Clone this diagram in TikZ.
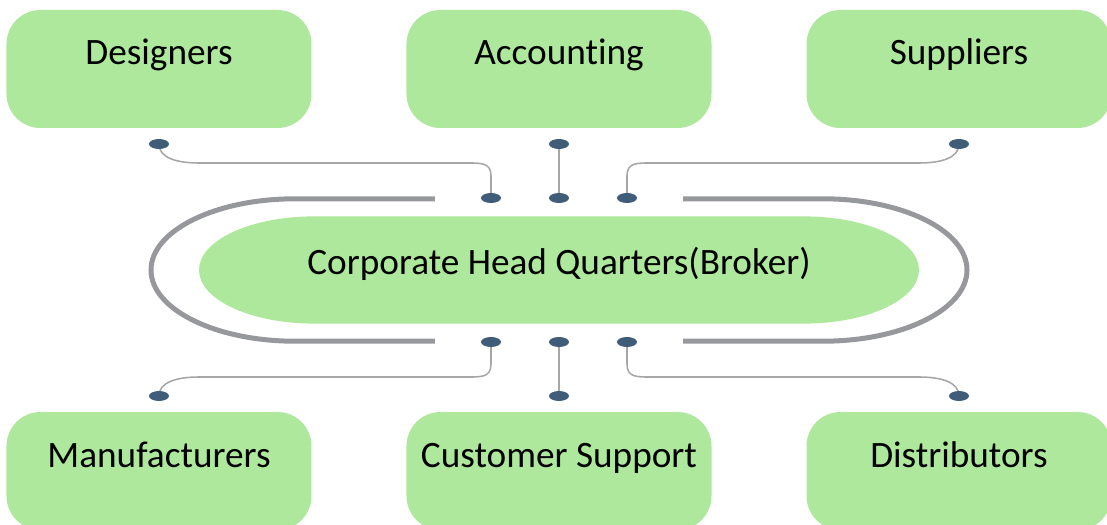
\documentclass[tikz,border=0pt]{standalone}
\usepackage{fontspec}
\setmainfont[Ligatures=NoCommon]{Carlito}
\usetikzlibrary{shapes.geometric,backgrounds,calc}
\definecolor{boxgreen}{HTML}{AEE89C}
\definecolor{dotblue}{HTML}{3F5C78}
\definecolor{ringgray}{HTML}{97989C}
\definecolor{linkgray}{HTML}{A6A6A6}
\tikzset{
    dept/.style={fill=boxgreen, rounded corners=0.85cm, minimum width=7.625cm, minimum height=2.95cm,
        text height=0.6cm, text depth=0.8cm, font=\fontsize{26.5}{30}\selectfont},
    plug/.style={ellipse, fill=dotblue, minimum width=0.5cm, minimum height=0.25cm, inner sep=0pt},
    wire/.style={linkgray, line width=1.1pt},
    trunk/.style={linkgray, line width=2pt},
    ring/.style={ringgray, line width=0.125cm},
}
\begin{document}
\begin{tikzpicture}
\useasboundingbox (-13.975,-6.35) rectangle (13.7,6.75);
\clip (-13.975,-6.35) rectangle (13.7,6.75);
\foreach \x/\y/\n/\t in {-10/5.025/des/Designers, 0/5.025/acc/Accounting, 10/5.025/sup/Suppliers,
    -10/-5.025/man/Manufacturers, 0/-5.025/cus/Customer Support, 10/-5.025/dis/Distributors}
{
    \node[dept] (\n) at (\x,\y) {\t};
}
% broker
\fill[boxgreen] (-6.125,1.34) -- (6.125,1.34) arc[start angle=90, end angle=-90, x radius=2.875, y radius=1.34]
    -- (-6.125,-1.34) arc[start angle=270, end angle=90, x radius=2.875, y radius=1.34] -- cycle;
\node[font=\fontsize{26.5}{30}\selectfont] (hq) at (0,0.15) {Corporate Head Quarters(Broker)};
\draw[ring] (-3.1,1.78) -- (-6.6,1.78) arc[start angle=90, end angle=270, x radius=3.6, y radius=1.78] -- (-3.1,-1.78);
\draw[ring] (3.1,1.78) -- (6.6,1.78) arc[start angle=90, end angle=-90, x radius=3.6, y radius=1.78] -- (3.1,-1.78);
% plugs
\foreach \n/\x/\y in {t1/-10/3.15, t2/0/3.15, t3/10/3.15, r1/-1.7/1.8, r2/0/1.8, r3/1.7/1.8,
    r4/-1.7/-1.8, r5/0/-1.8, r6/1.7/-1.8, b1/-10/-3.15, b2/0/-3.15, b3/10/-3.15}
{
    \node[plug] (\n) at (\x,\y) {};
}
\coordinate (up) at (0,2.675);
\coordinate (dn) at (0,-2.675);
\begin{scope}[on background layer]
\draw[wire] (t1.center) .. controls +(0,-0.35) and +(-0.55,0) .. ($(t1 |- up)+(1,0)$)
    -- ($(r1 |- up)+(-0.7,0)$) .. controls +(0.45,0) and +(0,0.35) .. ($(r1)+(0,0.55)$) -- (r1.center);
\draw[wire] (t3.center) .. controls +(0,-0.35) and +(0.55,0) .. ($(t3 |- up)+(-1,0)$)
    -- ($(r3 |- up)+(0.7,0)$) .. controls +(-0.45,0) and +(0,0.35) .. ($(r3)+(0,0.55)$) -- (r3.center);
\draw[wire] (b1.center) .. controls +(0,0.35) and +(-0.55,0) .. ($(b1 |- dn)+(1,0)$)
    -- ($(r4 |- dn)+(-0.7,0)$) .. controls +(0.45,0) and +(0,-0.35) .. ($(r4)+(0,-0.55)$) -- (r4.center);
\draw[wire] (b3.center) .. controls +(0,0.35) and +(0.55,0) .. ($(b3 |- dn)+(-1,0)$)
    -- ($(r6 |- dn)+(0.7,0)$) .. controls +(-0.45,0) and +(0,-0.35) .. ($(r6)+(0,-0.55)$) -- (r6.center);
\draw[trunk] (t2.center) -- (r2.center);
\draw[trunk] (r5.center) -- (b2.center);
\end{scope}
\end{tikzpicture}
\end{document}
